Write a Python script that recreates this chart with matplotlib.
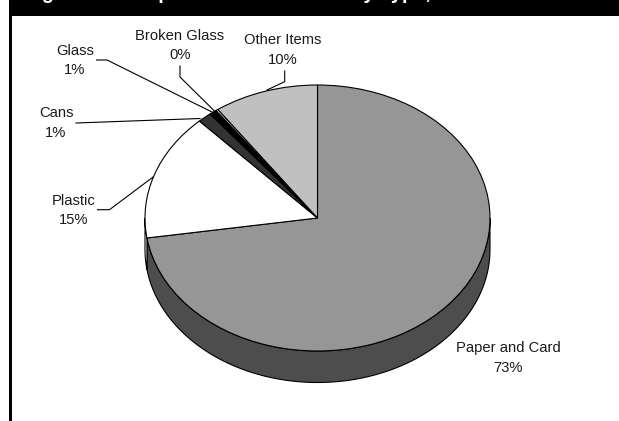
import matplotlib
matplotlib.use('Agg')
import matplotlib.pyplot as plt
import numpy as np

# composition by item type, percent
items = ['Paper and Card', 'Plastic', 'Cans', 'Glass', 'Broken Glass', 'Other Items']
shares = [72.6, 15.4, 1.3, 0.7, 0.2, 9.8]
top_colors = ['#969696', '#ffffff', '#333333', '#000000', '#ffffff', '#c0c0c0']
side_colors = ['#4d4d4d', '#ffffff', '#1a1a1a', '#000000', '#ffffff', '#808080']
title = 'Figure 4: Composition of Rubbish by Type, 2003'

W, H = 619, 421
plt.rcParams['font.family'] = ['Liberation Sans', 'DejaVu Sans']

fig = plt.figure(figsize=(W/100, H/100), dpi=100, facecolor='white')

# pie axes covers the top ellipse, so one unit is the radius in x and in y
cx, cy, rx, ry = 317.5, 218, 172.5, 133
depth = 31.5 / ry
pie_ax = fig.add_axes([(cx-rx)/W, 1-(cy+ry)/H, 2*rx/W, 2*ry/H])
wedges, _ = pie_ax.pie(shares, colors=top_colors, startangle=90, counterclock=False,
                       radius=1, wedgeprops={'edgecolor': 'k', 'linewidth': 0.8})
pie_ax.set_aspect('auto')
pie_ax.set_xlim(-1, 1)
pie_ax.set_ylim(-1, 1)

# side wall of the disc, only the part of each slice facing the front
for w, col in zip(wedges, side_colors):
    for start in [w.theta1, w.theta1 - 360, w.theta1 + 360]:
        a = max(start, 180)
        b = min(start + (w.theta2 - w.theta1), 360)
        if b <= a:
            continue
        t = np.radians(np.linspace(a, b, 100))
        x = np.cos(t)
        y = np.sin(t)
        pie_ax.fill(np.r_[x, x[::-1]], np.r_[y, y[::-1] - depth], fc=col, ec='k',
                    lw=0.8, zorder=0, clip_on=False)

# overlay in pixel coordinates for the frame, leaders and labels
ax = fig.add_axes([0, 0, 1, 1], zorder=5)
ax.set_xlim(0, W)
ax.set_ylim(H, 0)
ax.axis('off')

ax.fill_between([9, W], 0, 16, color='k', lw=0)
ax.fill_between([9, 12], 0, H, color='k', lw=0)
ax.text(24, -1, title, color='white', fontsize=14.4, fontweight='bold', va='baseline', ha='left')

leaders = {
    'Glass': ([96.5, 107, 213], [60, 60, 112.5]),
    'Broken Glass': ([180, 180, 215], [66, 77, 111.5]),
    'Other Items': ([284.7, 284.7, 267], [71, 81.7, 90]),
    'Cans': ([76, 200], [123, 118.5]),
    'Plastic': ([97.5, 109.5, 153.5], [209.7, 209.7, 176.7]),
}
for name in leaders:
    x, y = leaders[name]
    ax.plot(x, y, '-', lw=0.8, color='k')

label_pos = {
    'Paper and Card': (508, 358),
    'Plastic': (74, 210.5),
    'Cans': (56, 123),
    'Glass': (75, 60.5),
    'Broken Glass': (180, 45.5),
    'Other Items': (283, 50),
}
for name, val in zip(items, shares):
    lx, ly = label_pos[name]
    ax.text(lx, ly, f'{name}\n{round(val)}%', ha='center', va='center', fontsize=10.6,
            linespacing=1.47, color='#1a1a1a')

fig.savefig('out.png', dpi=100)
